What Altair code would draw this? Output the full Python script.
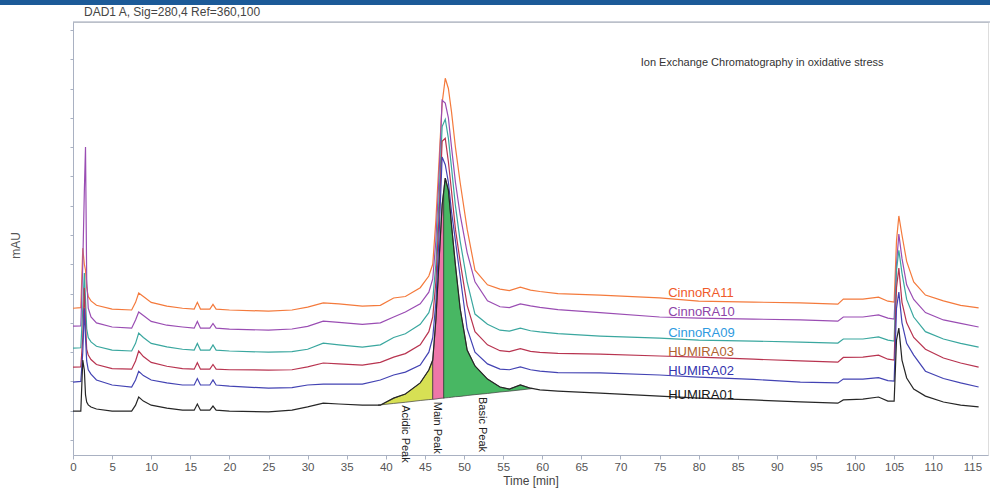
import altair as alt
import numpy as np
import pandas as pd

# Retention time grid shared by all traces (min)
time_min = [0, 1.0, 1.25, 1.45, 1.6, 1.75, 1.95, 2.3, 3.0, 5.0,
            7.5, 8.0, 8.4, 9.0, 10, 12, 14, 15.5, 15.9, 16.3,
            17.5, 17.9, 18.3, 20, 25, 28, 30, 32, 34, 37,
            39.3, 41, 42.5, 44.4, 45.5, 46.0, 46.4, 46.8, 47.2, 47.6,
            48.0, 48.4, 48.9, 49.5, 50.4, 51.4, 53.0, 54.6, 55.8, 57.2,
            58.5, 59.7, 62, 67.4, 75, 80, 87, 93, 97.8, 98.5,
            101, 103, 104.2, 105.0, 105.3, 105.6, 106.0, 106.6, 107.5, 109,
            111.3, 113.5, 115.8]

# Detector response (mAU) of each injection on that grid
cinnora11 = [45.0, 45.2, 65.5, 60.0, 58.0, 52.0, 49.0, 47.5, 46.0, 44.7,
             44.4, 47.0, 50.2, 49.0, 47.0, 45.7, 45.0, 44.7, 47.0, 44.7,
             44.7, 46.3, 44.7, 44.4, 44.0, 44.4, 45.4, 46.8, 46.5, 45.7,
             46.0, 48.5, 49.0, 52.0, 56.0, 60.0, 75.0, 95.0, 115.0, 123.5,
             120.0, 112.0, 100.0, 88.0, 72.0, 58.0, 53.0, 51.5, 51.0, 52.2,
             51.2, 50.7, 50.0, 49.5, 48.5, 47.4, 47.1, 46.8, 46.4, 48.1,
             48.1, 48.8, 47.4, 47.1, 68.0, 76.5, 70.0, 61.0, 54.0, 49.5,
             47.5, 46.0, 45.1]
cinnora10 = [38.9, 39.0, 60.0, 85.0, 100.0, 55.0, 45.0, 42.0, 40.0, 38.6,
             38.2, 41.0, 43.7, 42.5, 40.5, 39.2, 38.6, 38.2, 40.5, 38.2,
             38.2, 39.8, 38.2, 37.9, 37.5, 37.9, 38.8, 40.6, 40.2, 39.5,
             40.0, 42.0, 43.7, 46.5, 50.5, 55.0, 68.0, 90.0, 116.0, 115.0,
             110.0, 100.0, 88.0, 77.0, 64.0, 54.0, 47.5, 45.5, 45.2, 46.5,
             45.8, 45.3, 44.5, 43.5, 42.0, 41.6, 41.3, 41.0, 40.6, 42.0,
             42.0, 42.7, 41.6, 41.3, 60.0, 70.3, 62.0, 53.0, 48.0, 43.5,
             41.0, 39.8, 38.6]
cinnora09 = [31.4, 31.5, 45.0, 57.0, 48.0, 38.0, 35.0, 33.5, 32.0, 30.7,
             30.4, 33.0, 36.5, 35.0, 33.0, 31.8, 31.0, 30.7, 33.0, 30.7,
             30.7, 32.5, 30.7, 30.4, 30.0, 30.2, 31.0, 33.1, 32.5, 31.7,
             32.5, 35.0, 36.3, 39.5, 43.5, 48.0, 60.0, 82.0, 107.0, 109.5,
             103.0, 93.0, 80.0, 68.0, 54.0, 43.0, 39.5, 37.5, 37.2, 38.2,
             37.3, 36.9, 36.3, 35.5, 34.8, 34.1, 33.8, 33.4, 33.1, 34.5,
             34.5, 35.2, 34.1, 33.8, 58.0, 64.8, 57.0, 48.0, 42.0, 37.0,
             34.5, 33.0, 31.7]
humira03 = [24.9, 25.0, 35.0, 52.0, 40.0, 31.0, 29.0, 27.5, 25.8, 24.4,
            24.2, 27.0, 30.4, 28.5, 26.5, 25.2, 24.4, 24.2, 26.4, 24.2,
            24.2, 25.8, 24.2, 24.0, 23.9, 24.0, 25.0, 26.3, 26.0, 25.6,
            26.5, 28.3, 29.5, 32.5, 37.0, 42.0, 54.0, 76.0, 102.0, 103.0,
            95.0, 85.0, 72.0, 61.0, 46.0, 37.0, 32.5, 30.5, 30.2, 31.2,
            30.3, 29.9, 29.6, 29.3, 28.7, 28.3, 27.6, 27.0, 26.6, 28.2,
            28.3, 29.0, 27.6, 27.3, 52.0, 58.7, 47.0, 40.0, 35.0, 31.0,
            28.0, 26.3, 24.9]
humira02 = [19.8, 20.0, 30.0, 45.0, 35.0, 27.0, 24.0, 22.5, 20.5, 18.8,
            18.1, 20.5, 23.5, 22.0, 20.5, 19.5, 18.8, 18.8, 21.0, 18.8,
            18.8, 20.5, 18.8, 18.4, 17.7, 17.9, 18.8, 19.1, 19.1, 19.1,
            20.5, 22.2, 23.2, 25.6, 30.0, 35.0, 47.0, 69.0, 96.6, 94.0,
            88.0, 78.0, 68.0, 56.0, 38.0, 30.0, 26.0, 24.2, 24.0, 25.0,
            24.0, 23.5, 23.0, 22.9, 22.2, 21.5, 20.7, 19.8, 19.5, 20.8,
            20.8, 21.3, 20.3, 20.1, 45.0, 50.5, 40.0, 33.0, 29.0, 23.5,
            21.0, 19.5, 18.1]
humira01 = [9.9, 9.9, 27.3, 23.9, 15.4, 13.0, 12.0, 11.3, 10.6, 9.9,
            9.9, 11.9, 14.7, 13.3, 11.9, 10.9, 10.2, 10.2, 12.3, 10.2,
            10.2, 11.6, 10.2, 9.9, 9.6, 10.2, 11.3, 12.6, 12.3, 11.9,
            11.9, 14.3, 15.7, 19.5, 23.9, 27.3, 41.0, 60.8, 80.2, 89.4,
            85.3, 73.4, 59.7, 45.0, 30.7, 25.3, 20.8, 18.1, 17.4, 18.8,
            17.7, 17.1, 16.7, 16.0, 15.0, 14.3, 13.7, 13.0, 12.6, 13.7,
            14.0, 14.7, 13.3, 13.3, 34.1, 38.2, 27.3, 21.2, 17.4, 15.0,
            13.0, 11.9, 11.3]

sample_names = ["CinnoRA11", "CinnoRA10", "CinnoRA09", "HUMIRA03", "HUMIRA02", "HUMIRA01"]
sample_series = [cinnora11, cinnora10, cinnora09, humira03, humira02, humira01]
line_colors = ["#f47a3c", "#9a4db3", "#3aa79f", "#b83450", "#4343b3", "#262626"]
label_colors = ["#f05a2a", "#8e44a8", "#2e9ae0", "#b0622f", "#3434ae", "#151515"]

# Integrated charge-variant regions of HUMIRA01 (signal and drop-line baseline)
acidic_t = [39.0, 39.3, 41.0, 42.5, 44.4, 45.5, 46.0]
acidic_top = [11.9, 12.0, 14.3, 15.7, 19.5, 23.9, 27.3]
acidic_base = [11.9, 12.0, 12.5, 12.9, 13.5, 13.8, 13.9]
main_t = [46.0, 46.4, 46.8, 47.2, 47.4]
main_top = [27.3, 41.0, 60.8, 80.2, 84.8]
main_base = [13.9, 14.0, 14.2, 14.3, 14.3]
basic_t = [47.4, 47.6, 48.0, 48.4, 48.9, 49.5, 50.4, 51.4, 53.0, 54.6, 55.8, 57.2, 58.5, 58.8]
basic_top = [84.8, 89.4, 85.3, 73.4, 59.7, 45.0, 30.7, 25.3, 20.8, 18.1, 17.4, 18.8, 17.7, 17.6]
basic_base = [14.3, 14.4, 14.5, 14.6, 14.8, 14.9, 15.2, 15.5, 15.9, 16.4, 16.7, 17.1, 17.5, 17.6]

peak_names = ["Acidic Peak", "Main Peak", "Basic Peak"]
peak_label_t = [42.5, 46.6, 52.3]

W, H = 915, 433
FONT = "Liberation Sans"
x_scale = alt.Scale(domain=[0, 117], nice=False, zero=False)
y_scale = alt.Scale(domain=[-5.1, 142.7], nice=False, zero=False)

x_axis = alt.Axis(values=list(range(0, 120, 5)), title="Time [min]", grid=False,
                  labelFont=FONT, labelFontSize=11.5, labelColor="#555555", labelOverlap=False,
                  titleFont=FONT, titleFontSize=12, titleFontWeight="normal", titleColor="#444444",
                  tickSize=4, tickColor="#a9b1c2", domainColor="#a9b1c2",
                  labelPadding=2, titlePadding=3, labelFlush=False)
y_axis = alt.Axis(values=list(range(0, 150, 10)), labels=False, grid=False, title="mAU",
                  titleFont=FONT, titleFontSize=12, titleFontWeight="normal", titleColor="#555555",
                  titleX=-58, titleY=223, titleAlign="center", titleBaseline="middle",
                  tickSize=3, tickColor="#a9b1c2", domainColor="#a9b1c2")


def xq(field):
    return alt.X(field, type="quantitative", scale=x_scale, axis=x_axis)


def yq(field):
    return alt.Y(field, type="quantitative", scale=y_scale, axis=y_axis)


traces = pd.DataFrame([
    {"sample": n, "order": i, "t": t, "v": v}
    for i, (n, s) in enumerate(zip(sample_names, sample_series))
    for t, v in zip(time_min, s)
])

lines = alt.Chart(traces).mark_line(strokeWidth=1.2).encode(
    x=xq("t"), y=yq("v"),
    color=alt.Color("sample:N", scale=alt.Scale(domain=sample_names, range=line_colors), legend=None),
    order=alt.Order("order:Q"),
)


def region(ts, top, base, fill):
    df = pd.DataFrame({"t": ts, "top": top, "base": base})
    return alt.Chart(df).mark_area(color=fill, opacity=0.95, stroke="#333333", strokeWidth=0.7).encode(
        x=xq("t"), y=yq("top"), y2="base:Q",
    )


areas = (region(acidic_t, acidic_top, acidic_base, "#d5df4b")
         + region(main_t, main_top, main_base, "#ee70a4")
         + region(basic_t, basic_top, basic_base, "#3fb45b"))

# Sample names sit just above their trace at 76 min
label_t = 76.1
label_lift = [1.8, 1.7, 2.0, 1.4, 1.4, 0.4]
labels_df = pd.DataFrame({
    "name": sample_names,
    "lc": label_colors,
    "t": [label_t] * 6,
    "v": [float(np.interp(label_t, time_min, s)) + d for s, d in zip(sample_series, label_lift)],
})
sample_labels = alt.Chart(labels_df).mark_text(align="left", baseline="middle", font=FONT, fontSize=13).encode(
    x=xq("t"), y=yq("v"),
    text="name:N", color=alt.Color("lc:N", scale=None),
)

peak_df = pd.DataFrame({
    "name": peak_names,
    "t": peak_label_t,
    "v": [float(np.interp(t, acidic_t + main_t[1:] + basic_t[1:], acidic_base + main_base[1:] + basic_base[1:]))
          for t in peak_label_t],
})
peak_labels = alt.Chart(peak_df).mark_text(angle=90, align="left", baseline="middle", dx=3,
                                           font=FONT, fontSize=11, color="#222222").encode(
    x=xq("t"), y=yq("v"), text="name:N",
)

one = pd.DataFrame({"a": [0]})
caption = alt.Chart(one).mark_text(text="Ion Exchange Chromatography in oxidative stress", align="left",
                                   baseline="middle", font=FONT, fontSize=11, color="#333333").encode(
    x=alt.datum(72.6, scale=x_scale, axis=x_axis), y=alt.datum(128.7, scale=y_scale, axis=y_axis),
)
signal_note = alt.Chart(one).mark_text(text="DAD1 A, Sig=280,4 Ref=360,100", align="left",
                                       baseline="middle", font=FONT, fontSize=12, color="#454545").encode(
    x=alt.value(11), y=alt.value(-10),
)
top_band = alt.Chart(one).mark_rect(color="#1c5a98").encode(
    x=alt.value(-73), x2=alt.value(917), y=alt.value(-22), y2=alt.value(-17),
)
top_line = alt.Chart(one).mark_rule(color="#9aa3b5", strokeWidth=1).encode(
    x=alt.value(0), x2=alt.value(917), y=alt.value(0),
)

chart = alt.layer(areas, lines, sample_labels, peak_labels, caption, signal_note, top_band, top_line).properties(
    width=W, height=H,
    autosize=alt.AutoSizeParams(type="none"),
    padding={"left": 73, "top": 22, "right": 2, "bottom": 33},
).configure_view(stroke=None).configure_axis(labelOverlap=False).configure(background="#ffffff")

chart.save("out.html", embed_options={"renderer": "svg", "actions": False})
